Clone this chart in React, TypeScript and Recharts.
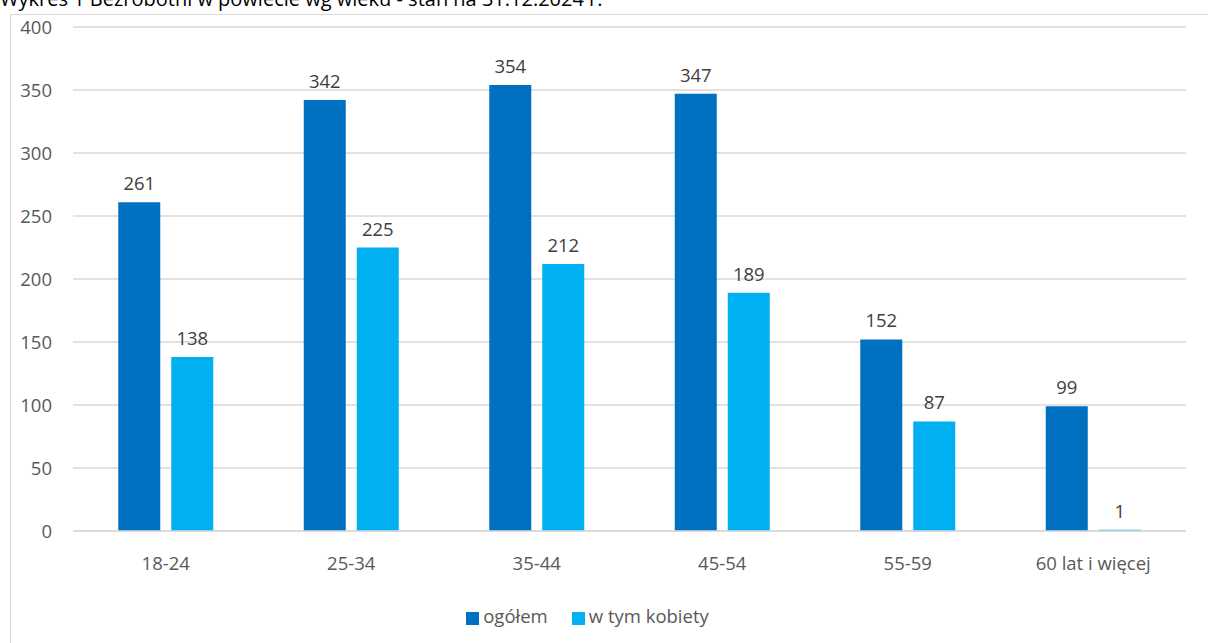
import { BarChart, Bar, XAxis, YAxis, CartesianGrid, Legend, LabelList } from 'recharts'

const categories = ['18-24', '25-34', '35-44', '45-54', '55-59', '60 lat i więcej']
const ogolem = [261, 342, 354, 347, 152, 99]
const kobiety = [138, 225, 212, 189, 87, 1]
const yTicks = [0, 50, 100, 150, 200, 250, 300, 350, 400]

const data = categories.map((c, i) => ({ name: c, ogolem: ogolem[i], kobiety: kobiety[i] }))

const font = '"Open Sans", "Liberation Sans", sans-serif'

export default function App() {
  return (
    <div style={{ position: 'absolute', left: 0, top: 0, width: 1208, height: 643, overflow: 'hidden', background: '#fff', fontFamily: font }}>
      <div style={{ position: 'absolute', left: 0, top: -15, fontSize: 20, color: '#000', whiteSpace: 'nowrap' }}>
        Wykres 1 Bezrobotni w powiecie wg  wieku - stan na 31.12.2024 r.
      </div>
      <div style={{ position: 'absolute', left: 10, top: 14, width: 1220, height: 660, border: '1px solid #d9d9d9', boxSizing: 'border-box' }} />
      <div style={{ position: 'absolute', left: 0, top: 0 }}>
        <BarChart
          width={1208}
          height={643}
          data={data}
          margin={{ top: 27, right: 22, left: 13, bottom: 57 }}
          barCategoryGap="24.4%"
          barGap={11}
        >
          <CartesianGrid vertical={false} stroke="#d9d9d9" strokeWidth={1.3} />
          <XAxis
            dataKey="name"
            axisLine={{ stroke: '#d9d9d9', strokeWidth: 1.5 }}
            tickLine={false}
            tick={{ fontSize: 18.5, fill: '#595959', fontFamily: font }}
            tickMargin={20}
          />
          <YAxis
            domain={[0, 400]}
            ticks={yTicks}
            axisLine={false}
            tickLine={false}
            width={60}
            tick={{ fontSize: 18.5, fill: '#595959', fontFamily: font, textAnchor: 'end', dx: -13 }}
          />
          <Legend
            verticalAlign="bottom"
            iconType="square"
            iconSize={13}
            wrapperStyle={{ bottom: 15, fontSize: 18.5, fontFamily: font }}
            formatter={(v) => <span style={{ color: '#595959', marginRight: 14 }}>{v}</span>}
          />
          <Bar dataKey="ogolem" name="ogółem" fill="#0070C0" isAnimationActive={false}>
            <LabelList dataKey="ogolem" position="top" offset={12} style={{ fontSize: 18.5, fill: '#404040', fontFamily: font }} />
          </Bar>
          <Bar dataKey="kobiety" name="w tym kobiety" fill="#00B0F0" isAnimationActive={false}>
            <LabelList dataKey="kobiety" position="top" offset={12} style={{ fontSize: 18.5, fill: '#404040', fontFamily: font }} />
          </Bar>
        </BarChart>
      </div>
    </div>
  )
}
